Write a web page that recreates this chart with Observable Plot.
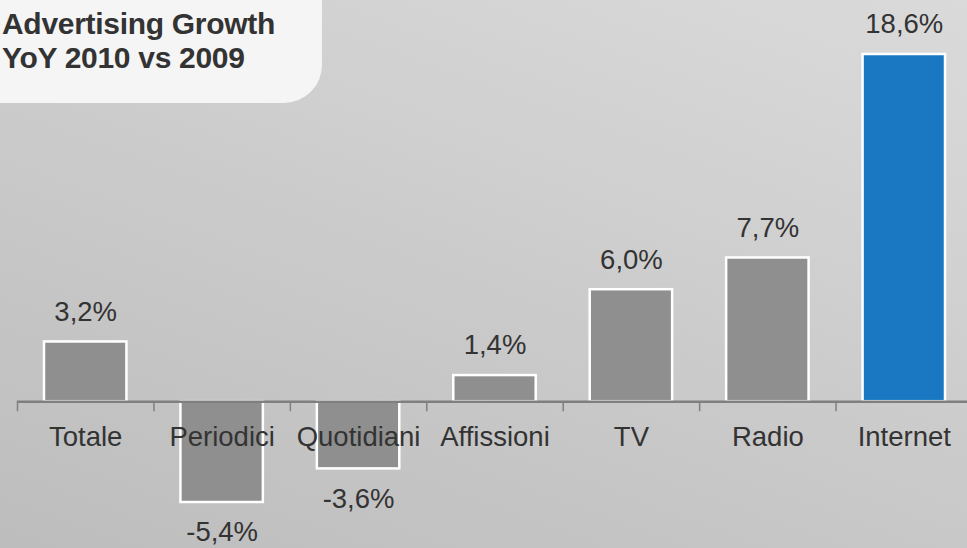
<!DOCTYPE html>
<html>
<head>
<meta charset="utf-8">
<script src="https://cdn.jsdelivr.net/npm/d3@7"></script>
<script src="https://cdn.jsdelivr.net/npm/@observablehq/plot@0.6"></script>
<style>
  html, body { margin: 0; padding: 0; }
  #wrap {
    position: relative; width: 967px; height: 548px; overflow: hidden;
    background: linear-gradient(20deg, #bdbdbd 0%, #c8c8c8 40%, #d3d3d3 75%, #dadada 100%);
    font-family: "Liberation Sans", Arial, sans-serif;
  }
  #titlebox {
    position: absolute; left: 0; top: 0; width: 322px; height: 103px;
    background: #f5f5f5; border-bottom-right-radius: 38px;
  }
  #title {
    position: absolute; left: 2px; top: 7px; margin: 0;
    font-size: 30px; font-weight: bold; line-height: 34px; color: #333;
    letter-spacing: -0.3px;
  }
  #chart { position: absolute; left: 0; top: 0; }
</style>
</head>
<body>
<div id="wrap">
  <div id="titlebox"></div>
  <div id="title">Advertising Growth<br>YoY 2010 vs 2009</div>
  <div id="chart"></div>
</div>
<script>
const categories = ["Totale", "Periodici", "Quotidiani", "Affissioni", "TV", "Radio", "Internet"];
const values = [3.2, -5.4, -3.6, 1.4, 6.0, 7.7, 18.6];
const highlight = ["Internet"];

const data = categories.map((c, i) => ({
  category: c, i, value: values[i],
  label: (values[i] < 0 ? "-" : "") + Math.abs(values[i]).toFixed(1).replace(".", ",") + "%"
}));
const edges = d3.range(categories.length + 1);
const textStyle = { fontSize: 27.5, fill: "#333", letterSpacing: "-0.4px" };

const plot = Plot.plot({
  width: 967,
  height: 548,
  marginLeft: 17,
  marginRight: -5,
  marginTop: 54,
  marginBottom: 46,
  style: { background: "transparent", fontFamily: "'Liberation Sans', Arial, sans-serif" },
  x: { domain: [0, categories.length], axis: null },
  y: { domain: [-5.4, 18.6], axis: null },
  marks: [
    Plot.rectY(data, {
      x1: "i", x2: d => d.i + 1, y1: 0, y2: "value",
      insetLeft: 27, insetRight: 27,
      fill: d => highlight.includes(d.category) ? "#1a78c2" : "#8e8f8e",
      stroke: "white", strokeWidth: 2.5
    }),
    Plot.ruleY([0], { stroke: "#7f7f7f", strokeWidth: 2.5 }),
    Plot.ruleX(edges, { x: d => d, y1: 0, y2: 0, insetBottom: -10, stroke: "#7f7f7f", strokeWidth: 1.5 }),
    Plot.text(data, {
      x: d => d.i + 0.5, y: 0, text: "category", dy: 35, ...textStyle
    }),
    Plot.text(data.filter(d => d.value >= 0), {
      x: d => d.i + 0.5, y: "value", text: "label", dy: -30, ...textStyle
    }),
    Plot.text(data.filter(d => d.value < 0), {
      x: d => d.i + 0.5, y: "value", text: "label", dy: 30, ...textStyle
    })
  ]
});
document.getElementById("chart").appendChild(plot);
</script>
</body>
</html>
